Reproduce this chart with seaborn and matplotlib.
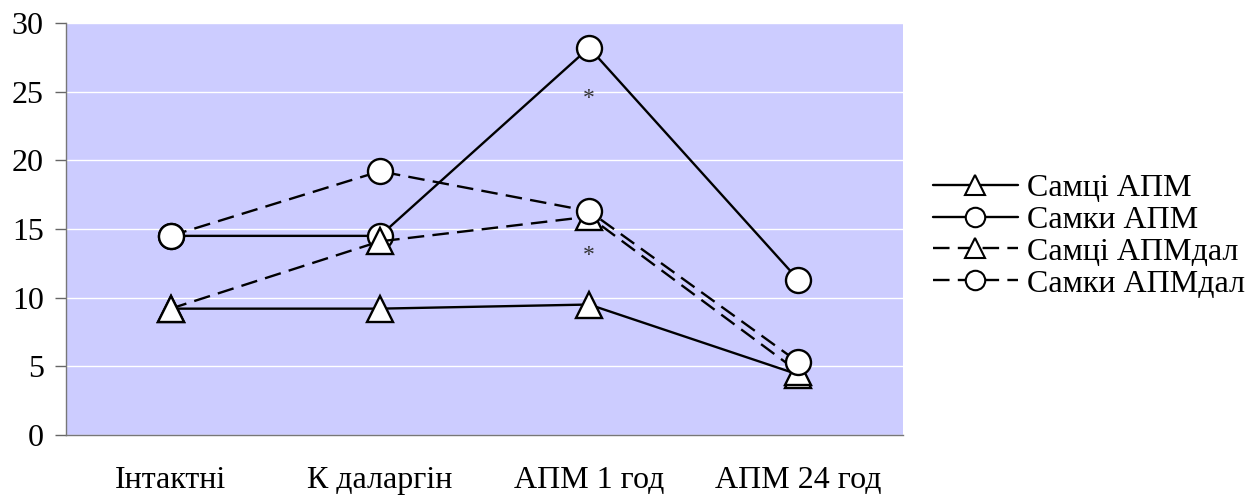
import matplotlib
matplotlib.use("Agg")
import matplotlib.pyplot as plt
import seaborn as sns
import pandas as pd
from matplotlib.lines import Line2D

categories = ["Інтактні", "К даларгін", "АПМ 1 год", "АПМ 24 год"]
males_apm = [9.2, 9.2, 9.5, 4.4]
females_apm = [14.5, 14.5, 28.2, 11.3]
males_apm_dal = [9.2, 14.1, 15.9, 4.6]
females_apm_dal = [14.5, 19.2, 16.3, 5.3]
series_names = ["Самці АПМ", "Самки АПМ", "Самці АПМдал", "Самки АПМдал"]
asterisk_pos = [(2, 24.5), (2, 13.1)]

sns.set_theme(style="white")
plt.rcParams["font.family"] = ["Liberation Serif", "DejaVu Serif"]
plt.rcParams["text.color"] = "black"
plt.rcParams["xtick.labelcolor"] = "black"
plt.rcParams["ytick.labelcolor"] = "black"

fig = plt.figure(figsize=(12.6, 4.98), dpi=100)
ax = fig.add_axes([66 / 1260, 1 - 435 / 498, (903 - 66) / 1260, (435 - 23) / 498])
ax.set_facecolor("#CCCCFF")

LW = 1.7
DASH = (0, (7, 3.5))
styles = [("^", "-"), ("o", "-"), ("^", DASH), ("o", DASH)]
values = [males_apm, females_apm, males_apm_dal, females_apm_dal]

handles = []
for name, vals, (mk, ls) in zip(series_names, values, styles):
    df = pd.DataFrame({"x": range(len(categories)), "y": vals})
    sns.lineplot(data=df, x="x", y="y", ax=ax, color="black", linewidth=LW,
                 linestyle=ls, marker=mk, markersize=18 if mk == "o" else 19,
                 markerfacecolor="white", markeredgecolor="black",
                 markeredgewidth=1.7, zorder=3)
    handles.append(Line2D([], [], color="black", linewidth=LW, linestyle=ls,
                          marker=mk, markersize=14, markerfacecolor="white",
                          markeredgecolor="black", markeredgewidth=1.5,
                          label=name))

for x, y in asterisk_pos:
    ax.text(x, y, "*", ha="center", va="center", fontsize=17, color="#333333")

ax.set_xlim(-0.5, 3.5)
ax.set_ylim(0, 30)
ax.set_yticks([0, 5, 10, 15, 20, 25, 30])
ax.yaxis.grid(True, color="white", linewidth=1.0)
ax.set_axisbelow(True)

ax.set_xticks(range(len(categories)))
ax.set_xticklabels(categories, fontsize=23)
ax.set_xticks([-0.5, 0.5, 1.5, 2.5, 3.5], minor=True)
ax.tick_params(axis="x", which="major", length=0, pad=22, labelcolor="black")
ax.tick_params(axis="x", which="minor", length=8, width=1, color="#666666", direction="out")
ax.tick_params(axis="y", which="major", length=8, width=1, color="#666666",
               direction="out", labelsize=23, pad=8, left=True, labelcolor="black")
ax.set_xlabel("")
ax.set_ylabel("")

for side in ["top", "right"]:
    ax.spines[side].set_visible(False)
for side in ["left", "bottom"]:
    ax.spines[side].set_color("#777777")
    ax.spines[side].set_linewidth(1.0)

fig.legend(handles=handles, loc="center left", bbox_to_anchor=(933 / 1260, 1 - 236 / 498),
           frameon=False, fontsize=23, handlelength=2.65, handletextpad=0.28,
           labelspacing=0.08, borderaxespad=0, borderpad=0, labelcolor="black")

fig.savefig("out.png", dpi=100, facecolor="white")
